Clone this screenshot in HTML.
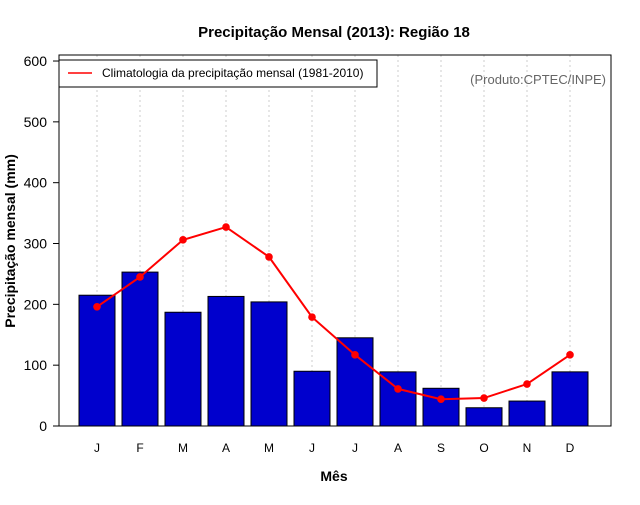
<!DOCTYPE html>
<html><head><meta charset="utf-8"><style>
body{margin:0;background:#fff;font-family:"Liberation Sans",sans-serif}
</style></head><body>
<svg width="640" height="500" xmlns="http://www.w3.org/2000/svg" font-family="Liberation Sans, sans-serif">
<rect width="640" height="500" fill="#fff"/>
<text x="334" y="37" text-anchor="middle" font-size="15" font-weight="bold">Precipitação Mensal (2013): Região 18</text>
<text x="334" y="481" text-anchor="middle" font-size="14" font-weight="bold">Mês</text>
<text transform="translate(15,241) rotate(-90)" text-anchor="middle" font-size="14" font-weight="bold">Precipitação mensal (mm)</text>
<g id="grid"></g><g id="bars"></g><g id="line"></g><g id="axes"></g>
<rect x="59" y="55" width="552" height="371" fill="none" stroke="#000"/>
<g>
<rect x="59" y="60" width="318" height="27" fill="#fff" stroke="#000"/>
<line x1="68" y1="73" x2="92" y2="73" stroke="red" stroke-width="1.5"/>
<text x="102" y="77" font-size="12">Climatologia da precipitação mensal (1981-2010)</text>
</g>
<text x="606" y="84" text-anchor="end" font-size="13" fill="#666">(Produto:CPTEC/INPE)</text>
</svg>
<script>
const months=["J","F","M","A","M","J","J","A","S","O","N","D"];
const obs=[215,253,187,213,204,90,145,89,62,30,41,89];
const clim=[196,245,306,327,278,179,117,61,44,46,69,117];
const yTicks=[0,100,200,300,400,500,600];
const NS="http://www.w3.org/2000/svg";
const x=i=>97+i*43;
const y=v=>426-v*0.6083;
function mk(t,a,p){const e=document.createElementNS(NS,t);for(const k in a)e.setAttribute(k,a[k]);document.getElementById(p).appendChild(e);return e;}
months.forEach((m,i)=>{
 const g=mk("line",{x1:x(i),x2:x(i),y1:55,y2:426,stroke:"#ccc","stroke-dasharray":"2,3"},"grid");
 
 
 const b=mk("rect",{x:x(i)-18,y:y(obs[i]),width:36,height:426-y(obs[i]),fill:"#0000cd",stroke:"#000","stroke-width":1},"bars");
 
 
 const t=mk("text",{x:x(i),y:452,"text-anchor":"middle","font-size":12},"axes");t.textContent=m;
 
 
});
const pl=mk("polyline",{points:clim.map((v,i)=>x(i)+","+y(v)).join(" "),fill:"none",stroke:"red","stroke-width":2},"line");


clim.forEach((v,i)=>{const c=mk("circle",{cx:x(i),cy:y(v),r:3.8,fill:"red"},"line");
 
 });
yTicks.forEach(v=>{
 mk("line",{x1:53,x2:59,y1:y(v),y2:y(v),stroke:"#000"},"axes");
 const t=mk("text",{x:47,y:y(v)+5,"text-anchor":"end","font-size":14},"axes");t.textContent=v;
 
 
});
</script>
</body></html>
